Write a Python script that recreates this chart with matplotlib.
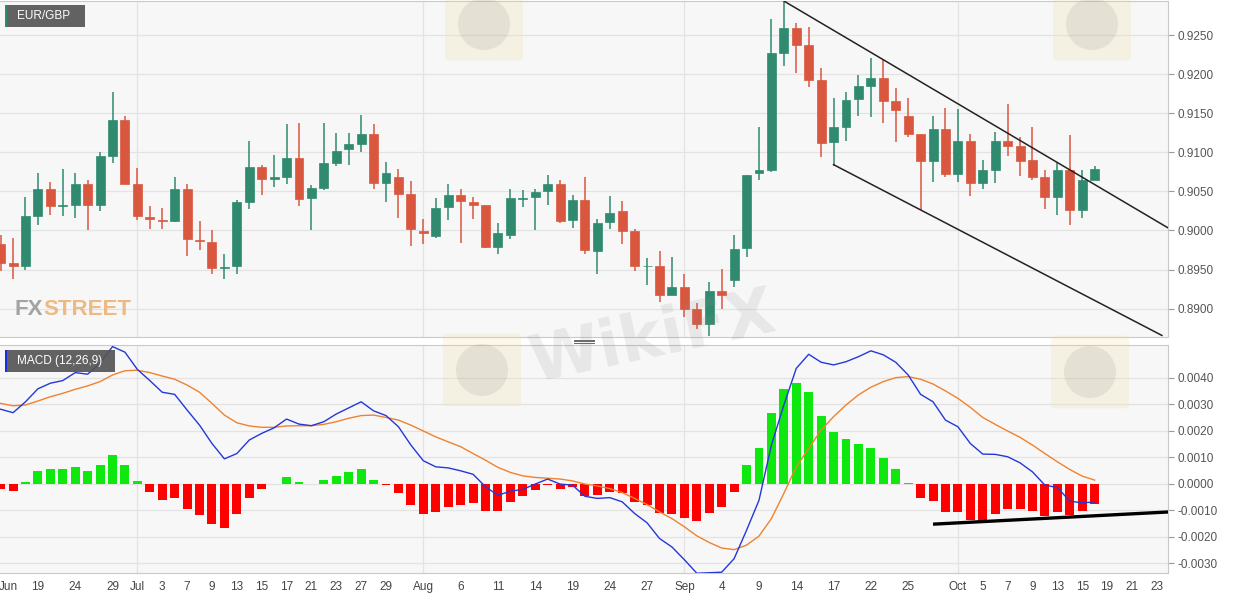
import matplotlib
matplotlib.use("Agg")
import matplotlib.pyplot as plt
from matplotlib.patches import Rectangle, FancyBboxPatch, Ellipse
import numpy as np

plt.rcParams['font.family'] = ['Liberation Sans', 'DejaVu Sans']

# EUR/GBP daily candles, one entry per trading bar
opens = [0.8983, 0.8959, 0.8955, 0.9019, 0.9053, 0.9031, 0.9033, 0.9059, 0.9033, 0.9095,
         0.9141, 0.9059, 0.9017, 0.9014, 0.9012, 0.9053, 0.8988, 0.8985, 0.8952, 0.8955,
         0.9036, 0.9081, 0.9066, 0.9068, 0.9093, 0.9041, 0.9054, 0.9086, 0.9104, 0.9111,
         0.9123, 0.9061, 0.9068, 0.9047, 0.8999, 0.8993, 0.9030, 0.9046, 0.9037, 0.9033,
         0.8979, 0.8994, 0.9040, 0.9043, 0.9050, 0.9059, 0.9013, 0.9039, 0.8974, 0.9011,
         0.9025, 0.8999, 0.8954, 0.8954, 0.8917, 0.8928, 0.8900, 0.8880, 0.8923, 0.8937,
         0.8977, 0.9073, 0.9078, 0.9227, 0.9259, 0.9237, 0.9192, 0.9113, 0.9133, 0.9168,
         0.9185, 0.9195, 0.9166, 0.9146, 0.9124, 0.9089, 0.9130, 0.9072, 0.9115, 0.9061,
         0.9078, 0.9115, 0.9108, 0.9090, 0.9068, 0.9043, 0.9078, 0.9026, 0.9064]
highs = [0.8994, 0.8991, 0.9043, 0.9073, 0.9062, 0.9079, 0.9074, 0.9065, 0.9100, 0.9177,
         0.9146, 0.9080, 0.9031, 0.9029, 0.9068, 0.9059, 0.9012, 0.9001, 0.8970, 0.9039,
         0.9114, 0.9084, 0.9096, 0.9136, 0.9138, 0.9058, 0.9137, 0.9125, 0.9125, 0.9148,
         0.9136, 0.9088, 0.9079, 0.9063, 0.9015, 0.9041, 0.9059, 0.9053, 0.9043, 0.9033,
         0.9009, 0.9053, 0.9052, 0.9053, 0.9071, 0.9064, 0.9046, 0.9068, 0.9015, 0.9044,
         0.9038, 0.9002, 0.8965, 0.8974, 0.8966, 0.8945, 0.8907, 0.8934, 0.8951, 0.8994,
         0.9071, 0.9132, 0.9271, 0.9293, 0.9266, 0.9260, 0.9208, 0.9170, 0.9177, 0.9199,
         0.9221, 0.9219, 0.9182, 0.9169, 0.9124, 0.9146, 0.9157, 0.9156, 0.9124, 0.9090,
         0.9126, 0.9162, 0.9120, 0.9133, 0.9078, 0.9086, 0.9122, 0.9078, 0.9083]
lows = [0.8948, 0.8938, 0.8950, 0.9007, 0.9020, 0.9018, 0.9016, 0.9001, 0.9025, 0.9086,
        0.9060, 0.9013, 0.9002, 0.9002, 0.9011, 0.8968, 0.8975, 0.8945, 0.8938, 0.8945,
        0.9028, 0.9045, 0.9056, 0.9059, 0.9031, 0.9001, 0.9052, 0.9083, 0.9084, 0.9100,
        0.9053, 0.9036, 0.9016, 0.8980, 0.8983, 0.8991, 0.9013, 0.8984, 0.9015, 0.8977,
        0.8970, 0.8989, 0.9030, 0.9001, 0.9033, 0.9009, 0.9003, 0.8970, 0.8945, 0.9002,
        0.8983, 0.8948, 0.8930, 0.8908, 0.8917, 0.8889, 0.8874, 0.8865, 0.8900, 0.8928,
        0.8966, 0.9065, 0.9075, 0.9211, 0.9202, 0.9184, 0.9094, 0.9083, 0.9115, 0.9147,
        0.9145, 0.9137, 0.9113, 0.9119, 0.9026, 0.9062, 0.9068, 0.9062, 0.9044, 0.9053,
        0.9061, 0.9095, 0.9070, 0.9064, 0.9028, 0.9020, 0.9007, 0.9016, 0.9064]
closes = [0.8958, 0.8955, 0.9019, 0.9053, 0.9031, 0.9032, 0.9059, 0.9033, 0.9095, 0.9141,
          0.9060, 0.9018, 0.9015, 0.9012, 0.9053, 0.8989, 0.8986, 0.8952, 0.8953, 0.9036,
          0.9081, 0.9066, 0.9068, 0.9093, 0.9040, 0.9054, 0.9086, 0.9102, 0.9110, 0.9123,
          0.9061, 0.9073, 0.9047, 0.9002, 0.8997, 0.9029, 0.9046, 0.9038, 0.9033, 0.8979,
          0.8997, 0.9041, 0.9041, 0.9049, 0.9059, 0.9012, 0.9039, 0.8975, 0.9010, 0.9023,
          0.8999, 0.8955, 0.8955, 0.8917, 0.8928, 0.8900, 0.8880, 0.8923, 0.8917, 0.8976,
          0.9071, 0.9078, 0.9227, 0.9259, 0.9237, 0.9192, 0.9112, 0.9133, 0.9167, 0.9185,
          0.9195, 0.9166, 0.9154, 0.9124, 0.9089, 0.9130, 0.9072, 0.9115, 0.9061, 0.9078,
          0.9115, 0.9108, 0.9089, 0.9068, 0.9043, 0.9078, 0.9026, 0.9064, 0.9079]

# MACD (12,26,9)
macd_line = [0.00281, 0.00268, 0.00309, 0.00358, 0.00379, 0.00389, 0.00419, 0.00413, 0.00454, 0.00517,
             0.00496, 0.00431, 0.00389, 0.00345, 0.00337, 0.00278, 0.00221, 0.00152, 0.00094, 0.00114,
             0.00165, 0.00190, 0.00211, 0.00244, 0.00225, 0.00219, 0.00234, 0.00263, 0.00286, 0.00309,
             0.00275, 0.00257, 0.00215, 0.00146, 0.00087, 0.00064, 0.00060, 0.00049, 0.00036, -0.00011,
             -0.00043, -0.00028, -0.00021, -0.00001, 0.00018, -0.00001, -0.00005, -0.00047, -0.00055, -0.00052,
             -0.00068, -0.00112, -0.00147, -0.00206, -0.00238, -0.00286, -0.00337, -0.00335, -0.00333, -0.00282,
             -0.00175, -0.00062, 0.00146, 0.00297, 0.00435, 0.00488, 0.00458, 0.00448, 0.00460, 0.00479,
             0.00501, 0.00486, 0.00458, 0.00410, 0.00337, 0.00309, 0.00240, 0.00215, 0.00152, 0.00112,
             0.00111, 0.00102, 0.00079, 0.00045, -0.00005, -0.00014, -0.00065, -0.00072, -0.00068]
signal_line = [0.00303, 0.00294, 0.00297, 0.00312, 0.00328, 0.00341, 0.00356, 0.00369, 0.00385, 0.00410,
               0.00426, 0.00428, 0.00419, 0.00406, 0.00394, 0.00372, 0.00345, 0.00303, 0.00259, 0.00230,
               0.00218, 0.00213, 0.00213, 0.00218, 0.00219, 0.00219, 0.00224, 0.00234, 0.00247, 0.00257,
               0.00259, 0.00250, 0.00240, 0.00221, 0.00199, 0.00177, 0.00158, 0.00140, 0.00114, 0.00089,
               0.00062, 0.00043, 0.00030, 0.00024, 0.00021, 0.00018, 0.00011, -0.00001, -0.00008, -0.00018,
               -0.00033, -0.00055, -0.00078, -0.00106, -0.00131, -0.00162, -0.00196, -0.00221, -0.00242, -0.00248,
               -0.00231, -0.00197, -0.00131, -0.00036, 0.00064, 0.00133, 0.00203, 0.00253, 0.00297, 0.00335,
               0.00364, 0.00385, 0.00400, 0.00404, 0.00394, 0.00376, 0.00350, 0.00322, 0.00288, 0.00250,
               0.00224, 0.00199, 0.00175, 0.00146, 0.00114, 0.00083, 0.00054, 0.00029, 0.00014]
macd_hist = [-0.00021, -0.00028, 0.00008, 0.00049, 0.00055, 0.00054, 0.00064, 0.00048, 0.00072, 0.00108,
             0.00070, 0.00011, -0.00030, -0.00062, -0.00055, -0.00093, -0.00116, -0.00150, -0.00165, -0.00114,
             -0.00052, -0.00020, -0.00002, 0.00026, 0.00005, -0.00002, 0.00014, 0.00030, 0.00043, 0.00054,
             0.00015, -0.00003, -0.00034, -0.00081, -0.00112, -0.00108, -0.00089, -0.00078, -0.00074, -0.00102,
             -0.00103, -0.00070, -0.00047, -0.00024, -0.00003, -0.00019, -0.00011, -0.00047, -0.00043, -0.00031,
             -0.00036, -0.00067, -0.00081, -0.00109, -0.00114, -0.00127, -0.00141, -0.00111, -0.00089, -0.00030,
             0.00070, 0.00136, 0.00268, 0.00357, 0.00381, 0.00347, 0.00255, 0.00196, 0.00169, 0.00150,
             0.00136, 0.00096, 0.00055, 0.00004, -0.00053, -0.00064, -0.00108, -0.00106, -0.00135, -0.00140,
             -0.00112, -0.00096, -0.00096, -0.00103, -0.00121, -0.00106, -0.00118, -0.00103, -0.00077]

# drawn trend lines (bar index, value)
upper_channel = ([63, 93.94], [0.92935, 0.90030])
lower_channel = ([67, 93.41], [0.90842, 0.88658])
macd_trend = ([75.0, 93.94], [-0.00152, -0.00106])

# date labels on the bar axis
date_ticks = [0.65, 3, 6, 9, 11, 13, 15, 17, 19, 21, 23, 25, 27, 29, 31, 34, 37, 40, 43, 46, 49, 52,
              55, 58, 61, 64, 67, 70, 73, 77, 79, 81, 83, 85, 87, 89, 91, 93]
date_labels = ['Jun', '19', '24', '29', 'Jul', '3', '7', '9', '13', '15', '17', '21', '23', '27', '29',
               'Aug', '6', '11', '14', '19', '24', '27', 'Sep', '4', '9', '14', '17', '22', '25',
               'Oct', '5', '7', '9', '13', '15', '19', '21', '23']
month_ticks = [11, 34, 55, 77]

price_ticks = [0.8900, 0.8950, 0.9000, 0.9050, 0.9100, 0.9150, 0.9200, 0.9250]
macd_ticks = [-0.0030, -0.0020, -0.0010, 0.0000, 0.0010, 0.0020, 0.0030, 0.0040]

UP = '#2f8a6f'
DOWN = '#d9573f'
BG = '#f7f7f7'
GRID = '#e3e3e3'
EDGE = '#c9c9c9'
TXT = '#555555'

W, H = 1245, 599
fig = plt.figure(figsize=(W / 100, H / 100), dpi=100, facecolor='white')
ax = fig.add_axes([0.0, 1 - 337 / H, 1168 / W, 336 / H])
ax2 = fig.add_axes([0.0, 1 - 573 / H, 1168 / W, 228 / H])

x = np.arange(len(opens))
o = np.array(opens); c = np.array(closes)
hi = np.array(highs); lo = np.array(lows)
up = c >= o
cols = np.where(up, UP, DOWN)

for a in (ax, ax2):
    a.set_facecolor(BG)
    a.set_xlim(-0.05, 93.9)
    for s in a.spines.values():
        s.set_color(EDGE)
        s.set_linewidth(0.8)
    a.spines['left'].set_visible(False)
    for m in month_ticks:
        a.axvline(m, color=GRID, lw=0.9, zorder=0)
    a.yaxis.tick_right()
    a.tick_params(axis='y', length=4, color='#999999', labelsize=8.5, labelcolor=TXT, pad=3)

# candles
ax.vlines(x, lo, hi, colors=cols, lw=1.1, zorder=2)
body_lo = np.minimum(o, c)
body_h = np.maximum(np.abs(c - o), 0.00012)
ax.bar(x, body_h, bottom=body_lo, width=0.72, color=cols, edgecolor=cols, lw=0.5, zorder=3)
ax.plot(*upper_channel, color='#222222', lw=1.1, zorder=4)
ax.plot(*lower_channel, color='#222222', lw=1.1, zorder=4)
ax.set_ylim(0.88638, 0.92935)
ax.set_yticks(price_ticks)
ax.set_yticklabels(['%.4f' % v for v in price_ticks])
for v in price_ticks:
    ax.axhline(v, color=GRID, lw=0.9, zorder=0)
ax.set_xticks([])

# MACD panel
hist = np.array(macd_hist)
ax2.bar(x, hist, width=0.72, color=np.where(hist >= 0, '#0ee80e', '#ff0000'), zorder=2)
ax2.plot(x, signal_line, color='#f0822e', lw=1.0, zorder=3)
ax2.plot(x, macd_line, color='#2438d8', lw=1.0, zorder=4)
ax2.plot(*macd_trend, color='black', lw=2.4, solid_capstyle='butt', zorder=5)
ax2.set_ylim(-0.00336, 0.00523)
ax2.set_yticks(macd_ticks)
ax2.set_yticklabels(['%.4f' % v for v in macd_ticks])
for v in macd_ticks:
    ax2.axhline(v, color=GRID, lw=0.9, zorder=0)
ax2.set_xticks(date_ticks)
ax2.set_xticklabels(date_labels)
ax2.tick_params(axis='x', length=0, labelsize=8.5, labelcolor='#444444', pad=6)

# label boxes
def tag(px, py, pw, ph, text, accent):
    fig.add_artist(Rectangle((px / W, 1 - (py + ph) / H), pw / W, ph / H,
                             transform=fig.transFigure, color='#555555', alpha=0.92, lw=0))
    fig.add_artist(Rectangle((px / W, 1 - (py + ph) / H), 2.5 / W, ph / H,
                             transform=fig.transFigure, color=accent, lw=0))
    fig.text((px + 12) / W, 1 - (py + ph / 2) / H, text, color='white', fontsize=8.5,
             va='center', ha='left')

tag(5, 5, 80, 22, 'EUR/GBP', '#2f8a6f')
tag(5, 350, 110, 22, 'MACD (12,26,9)', '#1a2ee0')

# FXSTREET mark
fx = fig.text(15 / W, 1 - 315 / H, 'FX', fontsize=16, fontweight='bold',
              color='#959595', alpha=0.85, zorder=1)
ax.annotate('STREET', xy=(1, 0), xycoords=fx, fontsize=16, fontweight='bold',
            color='#ebb06e', alpha=0.85, va='bottom', ha='left', annotation_clip=False)

# watermark tiles (faint)
for lx, ly in [(482, 370), (484, 24), (1092, 24), (1090, 372)]:
    fig.add_artist(FancyBboxPatch(((lx - 34) / W, 1 - (ly + 34) / H), 68 / W, 68 / H,
                                  boxstyle='round,pad=0.004', transform=fig.transFigure,
                                  color='#f2dc9a', alpha=0.22, lw=0, zorder=6))
    fig.add_artist(Ellipse((lx / W, 1 - ly / H), 52 / W, 52 / H, transform=fig.transFigure,
                           color='#8c8c8c', alpha=0.16, lw=0, zorder=6))
fig.text(652 / W, 1 - 338 / H, 'WikiFX', fontsize=46, fontweight='bold', color='#8a8a8a',
         alpha=0.15, rotation=12, ha='center', va='center', family='DejaVu Sans', zorder=6)

# pane divider handle
for k in range(3):
    yy = 1 - (339.5 + 1.6 * k) / H
    fig.add_artist(plt.Line2D([574 / W, 594 / W], [yy, yy], transform=fig.transFigure,
                              color='#666666', lw=0.7))

fig.savefig('out.png', dpi=100, facecolor='white')
